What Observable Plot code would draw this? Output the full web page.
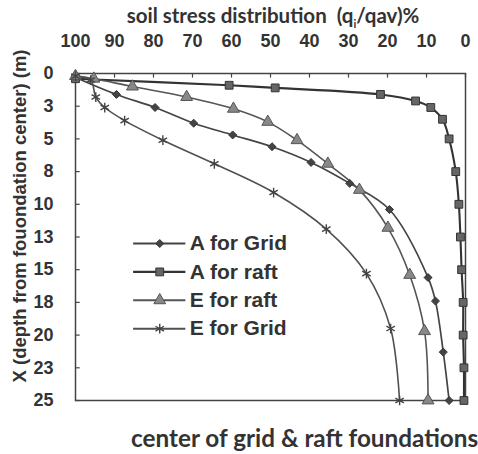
<!DOCTYPE html>
<html>
<head>
<meta charset="utf-8">
<script src="https://cdn.jsdelivr.net/npm/d3@7"></script>
<script src="https://cdn.jsdelivr.net/npm/@observablehq/plot@0.6"></script>
<style>
  body { margin: 0; background: #fff; width: 478px; height: 454px; overflow: hidden; position: relative; }
  #title { position: absolute; left: 0; top: 5px; width: 478px; height: 20px; line-height: 20px; text-align: center; font-family: Lato, "Open Sans", sans-serif; font-weight: bold; font-size: 20.5px; color: #333; padding-left: 68px; box-sizing: border-box; white-space: pre; z-index: 2; }
  #title sub { font-size: 11px; line-height: 0; }
  #caption { height: 32px; line-height: 32px; font-family: Lato, "Open Sans", sans-serif; font-weight: bold; font-size: 24.3px; color: #333; padding-left: 131px; white-space: nowrap; }
  #chart svg { display: block; }
</style>
</head>
<body>
<div id="title">soil stress distribution  (q<sub>i</sub>/qav)%</div>
<div id="chart"></div>
<div id="caption">center of grid &amp; raft foundations</div>
<script>
// ---- data (x = soil stress %, depth in m) ----
const seriesNames = ["A for Grid", "A for raft", "E for raft", "E for Grid"];

const aGridStress = [100, 89.5, 79.6, 69.7, 59.7, 49.6, 39.6, 29.7, 19.5, 9.6, 7.7, 5.7, 4.2];
const aGridDepth  = [0.3, 1.6, 2.6, 3.8, 4.7, 5.6, 6.8, 8.4, 10.4, 15.6, 17.4, 21.3, 25];

const aRaftStress = [100, 60.6, 48.8, 21.8, 12.8, 8.9, 5.9, 4.2, 2.5, 1.7, 1.3, 1.0, 0.6, 0.6, 0.4, 0.4];
const aRaftDepth  = [0.4, 0.9, 1.1, 1.6, 2.1, 2.6, 3.5, 5, 7.5, 10, 12.5, 15, 17.5, 20, 22.5, 25];

const eRaftStress = [100, 95.3, 85.4, 71.5, 59.5, 50.7, 43.2, 35.3, 27.2, 19.9, 14.3, 10.5, 9.6];
const eRaftDepth  = [0.2, 0.4, 1.0, 1.8, 2.7, 3.7, 5.1, 6.9, 8.9, 11.8, 15.4, 19.7, 25];

const eGridStress = [100, 96.1, 94.8, 92.5, 87.4, 77.6, 64.4, 49.2, 35.7, 25.4, 19.2, 16.9];
const eGridDepth  = [0.2, 0.5, 1.8, 2.6, 3.6, 5.1, 6.9, 9.1, 11.9, 15.3, 19.5, 25];

const xTicks = [100, 90, 80, 70, 60, 50, 40, 30, 20, 10, 0];
const yTicks = [0, 2.5, 5, 7.5, 10, 12.5, 15, 17.5, 20, 22.5, 25];
const yLabel = "X (depth from fouondation center) (m)";

// ---- build tables ----
const toRows = (xs, ds) => xs.map((x, i) => ({x, d: ds[i]}));
const aGrid = toRows(aGridStress, aGridDepth);
const aRaft = toRows(aRaftStress, aRaftDepth);
const eRaft = toRows(eRaftStress, eRaftDepth);
const eGrid = toRows(eGridStress, eGridDepth);

const styles = [
  {symbol: "diamond2", r: 3.6, fill: "#444", stroke: "#333", line: "#444", lw: 1.7},
  {symbol: "square", r: 4.4, fill: "#666", stroke: "#333", line: "#333", lw: 2.1},
  {symbol: "triangle", r: 4.4, fill: "#888", stroke: "#555", line: "#555", lw: 1.6},
  {symbol: "asterisk", r: 4.6, fill: "none", stroke: "#444", line: "#505050", lw: 1.6}
];
const tables = [aGrid, aRaft, eRaft, eGrid];

// legend rows (positions computed in layout code)
const legend = seriesNames.map((name, i) => ({name, i, y: 13.0 + i * 2.17}));

const marks = [];
tables.forEach((t, i) => {
  const s = styles[i];
  marks.push(Plot.line(t, {x: "x", y: "d", curve: "catmull-rom", stroke: s.line, strokeWidth: s.lw}));
});
tables.forEach((t, i) => {
  const s = styles[i];
  marks.push(Plot.dot(t, {x: "x", y: "d", symbol: s.symbol, r: s.r, fill: s.fill, stroke: s.stroke, strokeWidth: s.symbol === "asterisk" ? 1.4 : 1}));
});
legend.forEach((L) => {
  const s = styles[L.i];
  marks.push(Plot.ruleY([L], {y: "y", x1: 85.1, x2: 71.7, stroke: s.line, strokeWidth: s.lw + 0.3}));
  marks.push(Plot.dot([L], {x: 78.4, y: "y", symbol: s.symbol, r: s.r, fill: s.fill, stroke: s.stroke, strokeWidth: s.symbol === "asterisk" ? 1.4 : 1}));
  marks.push(Plot.text([L], {x: 70.7, y: "y", text: "name", textAnchor: "start", fontSize: 21, fontWeight: "bold", fill: "#333"}));
});

const chart = Plot.plot({
  width: 478,
  height: 422,
  marginTop: 73,
  marginBottom: 22,
  marginLeft: 75,
  marginRight: 13,
  style: {fontFamily: "'Liberation Sans', Arial, sans-serif", fontWeight: "bold", fontSize: "18px", color: "#333", background: "#fff"},
  x: {domain: [100, 0]},
  y: {domain: [0, 25], reverse: true},
  marks: [
    Plot.frame({stroke: "#444", strokeWidth: 1.5}),
    Plot.ruleX(xTicks, {x: d => d, y1: 0, y2: 0.35, stroke: "#444", strokeWidth: 1.2}),
    Plot.ruleY(yTicks, {y: d => d, x1: 100, x2: 98.8, stroke: "#444", strokeWidth: 1.2}),
    Plot.axisX({anchor: "top", ticks: xTicks, tickSize: 0, tickPadding: 27, label: null, fontSize: 18, fontWeight: "bold"}),
    Plot.axisY({anchor: "left", ticks: yTicks, tickSize: 0, tickPadding: 22, tickFormat: d => Math.round(d), label: null, fontSize: 18, fontWeight: "bold"}),
    Plot.text([yLabel], {frameAnchor: "left", textAnchor: "middle", dx: -55, dy: -21, rotate: -90, text: d => d, fontSize: 18.5, fontWeight: "bold", fill: "#333"}),
    ...marks
  ]
});
document.getElementById("chart").appendChild(chart);
</script>
</body>
</html>
